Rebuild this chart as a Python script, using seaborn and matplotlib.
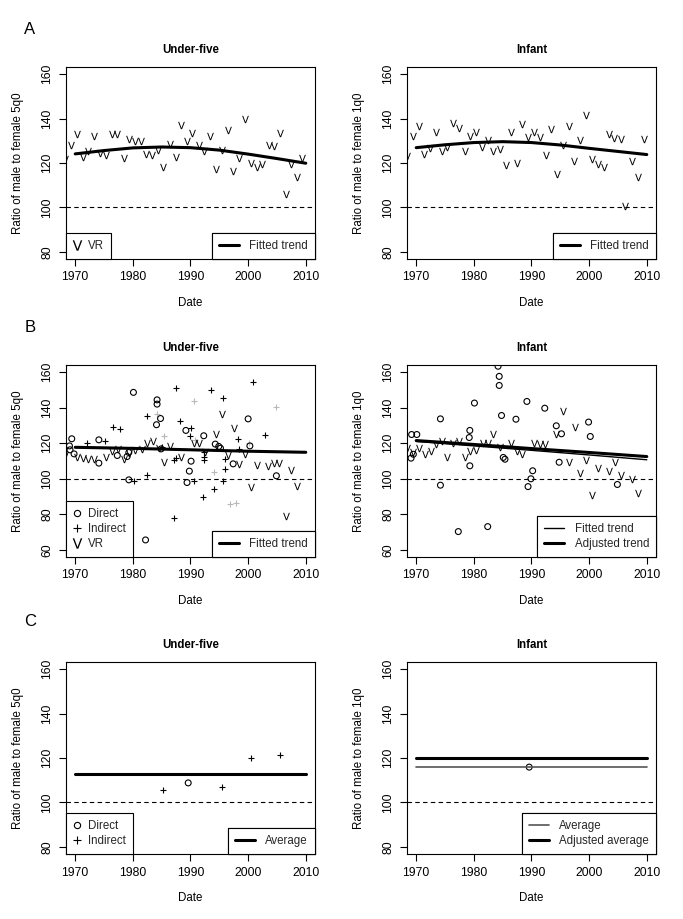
import matplotlib
matplotlib.use("Agg")
import matplotlib.pyplot as plt
from matplotlib.lines import Line2D
import seaborn as sns

sns.set_theme(style="white")
plt.rcParams['font.family'] = ['Liberation Sans', 'DejaVu Sans']
plt.rcParams['mathtext.fontset'] = 'dejavusans'

# ---------------- Data ----------------
# Panel A: VR series
vr5_years_A = [1968.3, 1969.2, 1970.3, 1971.3, 1972.2, 1973.3, 1974.3, 1975.3, 1976.4, 1977.3,
               1978.4, 1979.4, 1980.3, 1981.4, 1982.3, 1983.3, 1984.3, 1985.3, 1986.4, 1987.4,
               1988.4, 1989.4, 1990.3, 1991.4, 1992.4, 1993.4, 1994.4, 1995.4, 1996.5, 1997.4,
               1998.4, 1999.4, 2000.5, 2001.5, 2002.4, 2003.6, 2004.5, 2005.5, 2006.5, 2007.4,
               2008.5, 2009.4]
vr5_vals_A = [122.0, 128.1, 132.9, 122.7, 125.4, 132.0, 124.4, 123.6, 132.9, 132.9,
              122.3, 131.0, 129.8, 129.8, 124.2, 123.6, 126.0, 118.2, 128.6, 122.7,
              137.0, 129.9, 133.5, 128.1, 125.6, 132.2, 117.3, 125.9, 134.9, 116.4,
              122.3, 139.8, 120.2, 118.3, 119.5, 128.0, 127.7, 133.5, 105.9, 119.5,
              113.7, 122.3]
vr1_years_A = [1968.4, 1969.4, 1970.4, 1971.4, 1972.4, 1973.5, 1974.5, 1975.4, 1976.4, 1977.4,
               1978.4, 1979.4, 1980.4, 1981.4, 1982.4, 1983.4, 1984.5, 1985.5, 1986.4, 1987.4,
               1988.4, 1989.4, 1990.4, 1991.4, 1992.5, 1993.4, 1994.4, 1995.5, 1996.5, 1997.4,
               1998.5, 1999.5, 2000.5, 2001.5, 2002.5, 2003.5, 2004.4, 2005.5, 2006.3, 2007.4,
               2008.4, 2009.5]
vr1_vals_A = [123.2, 132.2, 136.7, 123.9, 126.9, 134.1, 125.4, 127.4, 138.2, 135.6,
              125.4, 132.2, 134.1, 127.4, 130.2, 125.4, 126.5, 119.0, 134.1, 119.8,
              137.4, 131.9, 134.1, 131.9, 123.6, 135.2, 115.2, 128.0, 136.7, 120.9,
              130.2, 141.5, 121.7, 119.4, 118.3, 132.9, 131.4, 131.0, 100.6, 120.9,
              113.7, 131.0]
trend_years_A = [1970, 1975, 1980, 1985, 1990, 1995, 2000, 2005, 2010]
trend5_A = [124.1, 125.6, 126.8, 127.2, 126.9, 125.8, 124.0, 122.0, 119.9]
trend1_A = [126.9, 128.2, 129.2, 129.6, 129.2, 128.1, 126.6, 125.2, 123.8]

# Panel B: under-five
dir5_years_B = [1969.0, 1969.4, 1969.1, 1969.8, 1974.1, 1974.1, 1977.3, 1979.0, 1979.3, 1979.3,
                1980.1, 1982.2, 1984.1, 1984.2, 1984.2, 1984.8, 1984.9, 1989.2, 1989.4, 1989.8,
                1990.1, 1992.3, 1994.3, 1994.9, 1995.2, 1997.4, 2000.0, 2000.3, 2004.9]
dir5_vals_B = [118.5, 122.5, 116.3, 114.0, 121.9, 108.8, 113.1, 112.5, 114.8, 99.4,
               148.6, 65.6, 130.4, 144.4, 142.0, 133.9, 116.8, 127.2, 97.9, 104.3,
               109.9, 124.2, 119.5, 118.2, 117.2, 108.4, 133.7, 118.5, 101.7]
ind5_years_B = [1972.0, 1975.2, 1976.5, 1977.8, 1980.2, 1982.4, 1982.5, 1985.1, 1987.2, 1987.2,
                1987.4, 1987.4, 1988.2, 1990.1, 1990.0, 1990.6, 1992.2, 1992.3, 1992.4, 1992.4,
                1993.5, 1994.0, 1995.6, 1995.6, 1995.9, 1995.9, 1998.2, 1998.5, 2000.9, 2003.0]
ind5_vals_B = [120.0, 121.0, 129.4, 127.9, 99.0, 135.4, 102.2, 117.6, 77.8, 110.3,
               111.6, 151.0, 132.6, 128.5, 124.2, 98.5, 90.0, 110.7, 112.5, 115.0,
               150.1, 94.1, 145.4, 98.5, 111.0, 105.6, 122.3, 117.0, 154.2, 124.7]
indx5_years_B = [1984.2, 1985.4, 1990.6, 1990.8, 1994.1, 1996.9, 1997.9, 2000.1, 2004.9]
indx5_vals_B = [136.6, 124.2, 143.9, 121.9, 103.8, 85.9, 86.6, 120.0, 140.1]
vr5_years_B = [1968.3, 1970.3, 1971.3, 1972.3, 1973.3, 1975.4, 1976.4, 1977.4, 1978.4, 1979.4,
               1980.3, 1981.5, 1982.5, 1983.5, 1984.5, 1985.4, 1986.5, 1988.4, 1990.6, 1991.4,
               1992.6, 1994.5, 1995.5, 1996.5, 1997.5, 1998.5, 1999.5, 2000.5, 2001.6, 2003.5,
               2004.5, 2005.3, 2006.5, 2007.5, 2008.5]
vr5_vals_B = [113.5, 112.2, 111.6, 111.2, 111.0, 112.2, 115.7, 116.7, 111.4, 114.5,
              116.0, 116.7, 120.0, 121.4, 117.5, 109.7, 118.2, 112.2, 120.0, 120.4,
              115.3, 125.3, 136.4, 113.5, 128.5, 108.2, 113.8, 95.6, 107.5, 107.3,
              109.1, 109.1, 78.8, 104.7, 95.8]
trend_years_B = [1970, 1980, 1990, 2000, 2010]
trend5_B = [117.7, 117.1, 116.3, 115.5, 114.9]

# Panel B: infant
dir1_years_B = [1969.2, 1970.1, 1969.1, 1969.5, 1974.2, 1974.2, 1977.3, 1979.3, 1979.2, 1979.3,
                1980.1, 1982.4, 1984.2, 1984.4, 1984.4, 1984.8, 1985.1, 1985.4, 1987.3, 1989.2,
                1989.4, 1989.9, 1990.2, 1992.3, 1994.3, 1995.2, 1994.8, 1999.9, 2000.2, 2004.9]
dir1_vals_B = [124.9, 124.9, 111.6, 113.8, 133.7, 96.4, 70.3, 127.2, 123.2, 107.3,
               142.6, 73.1, 163.3, 157.6, 152.5, 135.6, 112.0, 111.0, 133.5, 143.5,
               95.6, 100.0, 104.5, 139.7, 129.8, 125.3, 109.3, 131.9, 123.8, 96.8]
vr1_years_B = [1968.4, 1969.4, 1970.4, 1971.5, 1972.5, 1973.5, 1974.5, 1975.4, 1976.4, 1977.4,
               1978.4, 1979.4, 1980.4, 1981.5, 1982.5, 1983.4, 1984.5, 1986.5, 1987.4, 1988.4,
               1990.4, 1991.4, 1992.4, 1994.2, 1995.5, 1996.5, 1997.5, 1998.5, 1999.5, 2000.5,
               2001.6, 2003.5, 2004.5, 2005.5, 2007.5, 2008.5]
vr1_vals_B = [117.2, 115.3, 117.2, 113.8, 115.9, 119.7, 121.0, 112.5, 120.0, 121.4,
              112.5, 115.9, 116.3, 120.0, 120.4, 125.3, 117.6, 120.4, 115.9, 114.0,
              120.0, 119.7, 119.7, 125.3, 138.4, 109.7, 129.4, 103.1, 110.7, 91.0,
              106.0, 104.1, 109.2, 102.2, 99.8, 91.9]
fitted1_B = [121.0, 118.5, 116.0, 113.4, 110.7]
adjusted1_B = [121.5, 119.3, 117.0, 114.8, 112.5]

# Panel C
dir5_years_C = [1989.6]
dir5_vals_C = [108.8]
ind5_years_C = [1985.3, 1995.4, 2000.5, 2005.5]
ind5_vals_C = [105.8, 107.0, 120.1, 121.2]
dir1_years_C = [1989.6]
dir1_vals_C = [115.9]
avg_years_C = [1970, 2010]
avg5_C = [112.7, 112.7]
avg1_C = [115.9, 115.9]
adjavg1_C = [120.0, 120.0]

xticks = [1970, 1980, 1990, 2000, 2010]

# ---------------- Figure ----------------
W, H = 683, 919
fig = plt.figure(figsize=(W / 100, H / 100), dpi=100)

FS = 8.3
TFS = 8.7
VMARK = r'$\mathsf{V}$'


def make_ax(x0, top):
    return fig.add_axes([x0 / W, 1 - (top + 192) / H, 249 / W, 192 / H])


def style(ax, ylim, yticks, ylabel, title):
    ax.set_xlim(1968.4, 2011.6)
    ax.set_ylim(*ylim)
    ax.set_xticks(xticks)
    ax.set_yticks(yticks)
    for s in ax.spines.values():
        s.set_visible(True)
        s.set_color('black')
        s.set_linewidth(0.8)
    ax.tick_params(axis='both', which='major', direction='out', length=5, width=0.8,
                   color='black', labelsize=TFS, labelcolor='black', bottom=True, left=True)
    ax.tick_params(axis='x', pad=4)
    ax.tick_params(axis='y', pad=4, labelrotation=90)
    for lab in ax.get_yticklabels():
        lab.set_va('center')
    ax.set_xlabel('Date', fontsize=FS, color='black')
    ax.set_ylabel(ylabel, fontsize=FS, color='black')
    ax.xaxis.set_label_coords(0.5, -0.2)
    ax.yaxis.set_label_coords(-0.168, 0.5)
    ax.set_title(title, fontsize=FS, fontweight='bold', pad=10, color='black')
    ax.axhline(100, color='black', lw=0.8, ls=(0, (4, 3)), zorder=1)
    ax.grid(False)


def legend(ax, handles, loc, **kw):
    leg = ax.legend(handles=handles, loc=loc, bbox_to_anchor=(0, 0, 1, 1), borderaxespad=0,
                    frameon=True, fancybox=False, edgecolor='black', framealpha=1,
                    fontsize=FS, borderpad=0.6, labelspacing=0.25, **kw)
    leg.get_frame().set_linewidth(0.8)
    ax.add_artist(leg)
    return leg


h_vr = Line2D([], [], marker=VMARK, ls='none', color='black', markersize=7.5, mew=0, label='VR')
h_dir = Line2D([], [], marker='o', ls='none', mfc='none', mec='black', mew=0.8, ms=4.5, label='Direct')
h_ind = Line2D([], [], marker='+', ls='none', color='black', mew=0.8, ms=6, label='Indirect')


def h_line(lw, label, color='black'):
    return Line2D([], [], color=color, lw=lw, label=label)


def vr(ax, x, y):
    sns.scatterplot(x=x, y=y, ax=ax, marker=VMARK, s=28, color='black', linewidth=0, zorder=3)


def direct(ax, x, y):
    sns.scatterplot(x=x, y=y, ax=ax, marker='o', s=18, facecolor='none', edgecolor='black',
                    linewidth=0.8, zorder=3)


def indirect(ax, x, y, color='black'):
    sns.scatterplot(x=x, y=y, ax=ax, marker='+', s=22, color=color, linewidth=0.8, zorder=3)


def line(ax, x, y, lw, color='black'):
    sns.lineplot(x=x, y=y, ax=ax, color=color, lw=lw, estimator=None, sort=False, zorder=4)


LX, RX = 66, 407
TOPS = [67, 365, 662]
yt80 = [80, 100, 120, 140, 160]
yt60 = [60, 80, 100, 120, 140, 160]
LINE_KW = dict(handlelength=1.75, handletextpad=0.9)
MARK_KW = dict(handlelength=0.7, handletextpad=0.6)

# ---- Row A ----
ax = make_ax(LX, TOPS[0])
vr(ax, vr5_years_A, vr5_vals_A)
line(ax, trend_years_A, trend5_A, 2.2)
style(ax, (76.8, 163.2), yt80, 'Ratio of male to female 5q0', 'Under-five')
legend(ax, [h_vr], 'lower left', **MARK_KW)
legend(ax, [h_line(2.2, 'Fitted trend')], 'lower right', **LINE_KW)

ax = make_ax(RX, TOPS[0])
vr(ax, vr1_years_A, vr1_vals_A)
line(ax, trend_years_A, trend1_A, 2.2)
style(ax, (76.8, 163.2), yt80, 'Ratio of male to female 1q0', 'Infant')
legend(ax, [h_line(2.2, 'Fitted trend')], 'lower right', **LINE_KW)

# ---- Row B ----
ax = make_ax(LX, TOPS[1])
indirect(ax, indx5_years_B, indx5_vals_B, color='#b8b8b8')
vr(ax, vr5_years_B, vr5_vals_B)
direct(ax, dir5_years_B, dir5_vals_B)
indirect(ax, ind5_years_B, ind5_vals_B)
line(ax, trend_years_B, trend5_B, 2.2)
style(ax, (56, 164), yt60, 'Ratio of male to female 5q0', 'Under-five')
legend(ax, [h_dir, h_ind, h_vr], 'lower left', **MARK_KW)
legend(ax, [h_line(2.2, 'Fitted trend')], 'lower right', **LINE_KW)

ax = make_ax(RX, TOPS[1])
vr(ax, vr1_years_B, vr1_vals_B)
direct(ax, dir1_years_B, dir1_vals_B)
line(ax, trend_years_B, fitted1_B, 1.0)
line(ax, trend_years_B, adjusted1_B, 2.2)
style(ax, (56, 164), yt60, 'Ratio of male to female 1q0', 'Infant')
legend(ax, [h_line(1.0, 'Fitted trend'), h_line(2.2, 'Adjusted trend')], 'lower right', **LINE_KW)

# ---- Row C ----
ax = make_ax(LX, TOPS[2])
direct(ax, dir5_years_C, dir5_vals_C)
indirect(ax, ind5_years_C, ind5_vals_C)
line(ax, avg_years_C, avg5_C, 2.2)
style(ax, (76.8, 163.2), yt80, 'Ratio of male to female 5q0', 'Under-five')
legend(ax, [h_dir, h_ind], 'lower left', **MARK_KW)
legend(ax, [h_line(2.2, 'Average')], 'lower right', **LINE_KW)

ax = make_ax(RX, TOPS[2])
direct(ax, dir1_years_C, dir1_vals_C)
line(ax, avg_years_C, avg1_C, 1.2, color='#555555')
line(ax, avg_years_C, adjavg1_C, 2.2)
style(ax, (76.8, 163.2), yt80, 'Ratio of male to female 1q0', 'Infant')
legend(ax, [h_line(1.2, 'Average', '#555555'), h_line(2.2, 'Adjusted average')], 'lower right',
       **LINE_KW)

for letter, yy in zip(['A', 'B', 'C'], [30, 327, 622]):
    fig.text(30 / W, 1 - yy / H, letter, fontsize=12, ha='center', va='center', color='black')

fig.savefig('out.png', dpi=100, facecolor='white')
